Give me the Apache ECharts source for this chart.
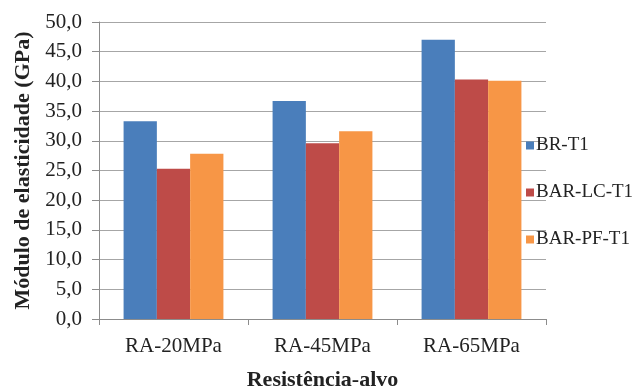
<!DOCTYPE html>
<html>
<head>
<meta charset="utf-8">
<script src="https://cdn.jsdelivr.net/npm/echarts@6/dist/echarts.min.js"></script>
<style>html,body{margin:0;padding:0;background:#fff}#c{width:638px;height:387px}</style>
</head>
<body>
<div id="c"></div>
<script>
const categories = ['RA-20MPa', 'RA-45MPa', 'RA-65MPa'];
const seriesNames = ['BR-T1', 'BAR-LC-T1', 'BAR-PF-T1'];
const brT1 = [33.3, 36.7, 47.0];
const barLcT1 = [25.3, 29.6, 40.3];
const barPfT1 = [27.8, 31.6, 40.1];
const colors = ['#4a7ebb', '#be4b48', '#f79646'];

const serif = '"Liberation Serif", "DejaVu Serif", serif';
const chart = echarts.init(document.getElementById('c'));
const data = [brT1, barLcT1, barPfT1];
chart.setOption({
  animation: false,
  color: colors,
  textStyle: { fontFamily: serif },
  grid: { left: 99, right: 92, top: 22, bottom: 68, containLabel: false, outerBoundsMode: 'none' },
  legend: {
    orient: 'vertical',
    left: 521,
    top: 131,
    itemWidth: 8,
    itemHeight: 8,
    itemGap: 28,
    icon: 'rect',
    textStyle: { fontFamily: serif, fontSize: 19, color: '#222', padding: [0, 0, 0, -3] },
    data: seriesNames
  },
  xAxis: {
    type: 'category',
    data: categories,
    name: 'Resistência-alvo',
    nameLocation: 'middle',
    nameGap: 50,
    nameTextStyle: { fontFamily: serif, fontSize: 22, fontWeight: 'bold', color: '#222' },
    axisLine: { lineStyle: { color: '#8c8c8c', width: 1 } },
    axisTick: { show: true, length: 6, lineStyle: { color: '#8c8c8c' } },
    axisLabel: { fontFamily: serif, fontSize: 21, color: '#222', margin: 17 }
  },
  yAxis: {
    type: 'value',
    min: 0,
    max: 50,
    interval: 5,
    name: 'Módulo de elasticidade (GPa)',
    nameLocation: 'middle',
    nameGap: 64,
    nameTextStyle: { fontFamily: serif, fontSize: 22, fontWeight: 'bold', color: '#222' },
    axisLine: { show: true, lineStyle: { color: '#8c8c8c' } },
    axisTick: { show: true, length: 7, lineStyle: { color: '#8c8c8c' } },
    axisLabel: {
      fontFamily: serif, fontSize: 21, color: '#222', margin: 17,
      formatter: v => v.toFixed(1).replace('.', ',')
    },
    splitLine: { lineStyle: { color: '#a6a6a6', width: 1 } }
  },
  series: seriesNames.map((n, i) => ({
    name: n,
    type: 'bar',
    data: data[i],
    barGap: '0%',
    barCategoryGap: '33%',
    itemStyle: { color: colors[i] }
  }))
});
</script>
</body>
</html>
